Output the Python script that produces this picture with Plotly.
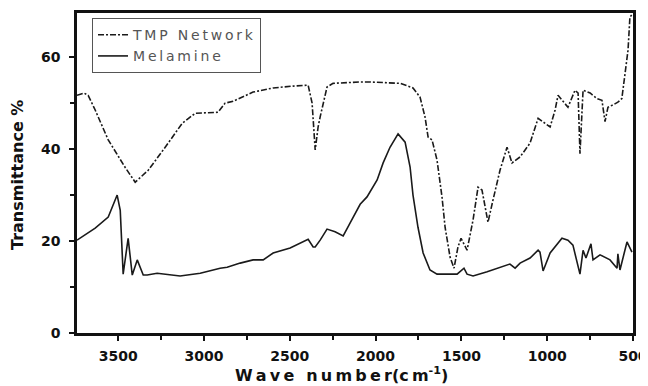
import plotly.graph_objects as go

# TMP Network (dash-dot) spectrum: wavenumber, transmittance
tmp_x = [3740, 3700, 3675, 3634, 3558, 3459, 3401, 3325, 3226, 3127, 3051, 2976, 2918, 2877,
         2830, 2714, 2597, 2481, 2393, 2370, 2352, 2335, 2323, 2283, 2248, 2090, 2032, 1857,
         1782, 1741, 1712, 1694, 1671, 1642, 1613, 1595, 1566, 1543, 1520, 1502, 1467, 1432,
         1403, 1380, 1345, 1316, 1275, 1234, 1205, 1158, 1100, 1053, 983, 954, 937, 879, 838,
         820, 809, 791, 750, 710, 681, 663, 646, 617, 588, 565, 547, 529, 518, 505]
tmp_y = [51.7, 52.2, 51.7, 48.5, 42.0, 36.0, 32.8, 35.4, 40.4, 45.6, 47.8, 48.0, 48.0, 50.0,
         50.4, 52.4, 53.3, 53.7, 53.9, 50.0, 39.8, 44.8, 47.0, 53.5, 54.3, 54.6, 54.6, 54.3,
         53.3, 51.3, 47.0, 42.6, 42.0, 37.6, 29.6, 23.0, 16.5, 14.1, 18.7, 20.6, 18.0, 24.6,
         31.7, 31.1, 24.1, 28.9, 35.4, 40.4, 37.0, 38.3, 41.3, 46.7, 44.8, 48.5, 51.7, 49.1, 52.8,
         52.2, 39.0, 52.8, 52.2, 51.0, 50.6, 46.0, 49.1, 49.6, 50.2, 51.0, 55.7, 61.5, 68.7, 69.3]

# Melamine (solid) spectrum
mel_x = [3740, 3634, 3558, 3506, 3488, 3471, 3442, 3418, 3389, 3354, 3331, 3273, 3139, 3022,
         2906, 2865, 2789, 2714, 2655, 2597, 2498, 2393, 2364, 2352, 2323, 2283, 2236, 2189,
         2149, 2090, 2050, 1991, 1956, 1916, 1869, 1828, 1799, 1782, 1753, 1723, 1683, 1642,
         1525, 1485, 1467, 1432, 1350, 1275, 1217, 1187, 1158, 1100, 1053, 1042, 1024, 983,
         914, 879, 850, 809, 791, 774, 745, 733, 692, 634, 593, 588, 576, 535, 506]
mel_y = [20.2, 22.8, 25.2, 30.0, 26.7, 12.8, 20.6, 12.6, 15.9, 12.6, 12.6, 13.0, 12.4, 13.0,
         14.1, 14.3, 15.2, 15.9, 15.9, 17.4, 18.5, 20.4, 18.7, 18.7, 20.2, 22.6, 22.0, 21.1,
         23.9, 28.0, 29.6, 33.3, 37.0, 40.4, 43.3, 41.5, 36.1, 30.0, 23.0, 17.4, 13.7, 12.8,
         12.8, 14.1, 12.8, 12.4, 13.3, 14.3, 15.0, 14.1, 15.2, 16.3, 18.0, 17.6, 13.5, 17.4,
         20.6, 20.2, 19.1, 12.8, 18.0, 16.3, 19.4, 15.9, 17.0, 15.9, 14.1, 17.2, 13.7, 19.8, 17.6]

x_ticks = [3500, 3000, 2500, 2000, 1500, 1000, 500]
x_minor = [3250, 2750, 2250, 1750, 1250, 750]
y_ticks = [0, 20, 40, 60]
y_minor = [10, 30, 50]

TS = "\u2009"  # thin space used as letter spacing
def spaced(s):
    return TS.join(list(s))

font_family = "DejaVu Sans, Liberation Sans, Arial, sans-serif"
ink = "#111111"

fig = go.Figure()
fig.add_trace(go.Scatter(x=tmp_x, y=tmp_y, mode="lines", name=spaced("TMP Network"),
                         line=dict(color="#1a1a1a", width=1.6, dash="6px,2px,2px,2px")))
fig.add_trace(go.Scatter(x=mel_x, y=mel_y, mode="lines", name=spaced("Melamine"),
                         line=dict(color="#1a1a1a", width=1.6)))

axis_common = dict(
    ticks="outside", ticklen=5, tickwidth=2, tickcolor=ink,
    showline=True, linewidth=2.5, linecolor=ink, mirror=True,
    showgrid=False, zeroline=False, automargin=False,
    tickfont=dict(size=14, family=font_family, color=ink, weight="bold"),
)

# the page body adds an 8px offset, so the figure is 8px smaller on each side
fig.update_layout(
    width=640, height=378,
    margin=dict(l=69, r=15, t=5, b=53, autoexpand=False),
    paper_bgcolor="white", plot_bgcolor="white",
    font=dict(family=font_family, color=ink),
    showlegend=True,
    legend=dict(x=0.027, y=0.984, xanchor="left", yanchor="top",
                bordercolor="#555", borderwidth=1, bgcolor="rgba(255,255,255,0)",
                font=dict(size=14, color="#555", family=font_family),
                tracegroupgap=0, itemwidth=30),
    xaxis=dict(range=[3740, 500], autorange=False, tickvals=x_ticks,
               minor=dict(tickvals=x_minor, ticks="outside", ticklen=4, tickwidth=2, tickcolor=ink),
               ticklabelstandoff=3, **axis_common),
    yaxis=dict(range=[0, 69.6], autorange=False, tickvals=y_ticks,
               minor=dict(tickvals=y_minor, ticks="outside", ticklen=4, tickwidth=2, tickcolor=ink),
               ticklabelstandoff=6, **axis_common),
    annotations=[
        dict(text=spaced("Wave number") + "(" + spaced("cm") + "<sup>-1</sup>)",
             xref="paper", yref="paper", x=0.475, y=-0.131, xanchor="center", yanchor="middle",
             showarrow=False, font=dict(size=16, family=font_family, color=ink, weight="bold")),
        dict(text="Transmittance %", textangle=-90,
             xref="paper", yref="paper", x=-0.106, y=0.494, xanchor="center", yanchor="middle",
             showarrow=False, font=dict(size=16, family=font_family, color=ink, weight="bold")),
    ],
)

fig.write_html("out.html")
